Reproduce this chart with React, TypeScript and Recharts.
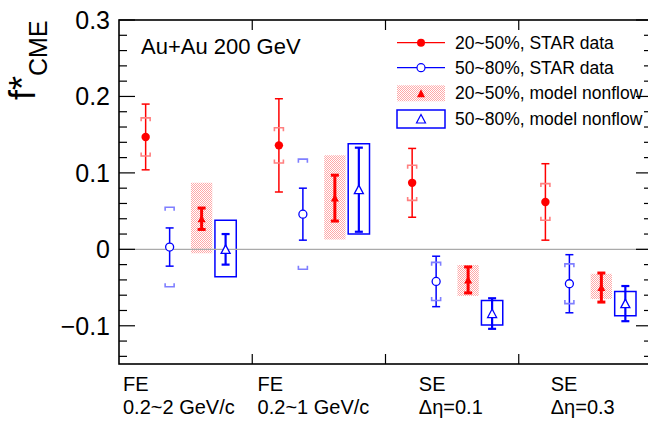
import React from "react";
import {
  ErrorBar,
  ReferenceArea,
  ReferenceLine,
  Scatter,
  ScatterChart,
  XAxis,
  YAxis,
} from "recharts";

// group labels on the x axis (two lines each) and where they start
const groupLabels = [
  ["FE", "0.2~2 GeV/c"],
  ["FE", "0.2~1 GeV/c"],
  ["SE", "Δη=0.1"],
  ["SE", "Δη=0.3"],
];
const groupLabelAt = [0.03, 1.04, 2.25, 3.24];
const xGroupTicks = [1, 2, 3];
const yTicks = [
  -0.14, -0.12, -0.1, -0.08, -0.06, -0.04, -0.02, 0, 0.02, 0.04, 0.06, 0.08, 0.1,
  0.12, 0.14, 0.16, 0.18, 0.2, 0.22, 0.24, 0.26, 0.28, 0.3,
];

// 20~50%, STAR data
const xStar2050 = [0.2, 1.2, 2.2, 3.2];
const star2050 = [0.147, 0.136, 0.087, 0.062];
const star2050Stat = [0.043, 0.061, 0.045, 0.05];
const star2050Sys = [0.025, 0.023, 0.023, 0.024];

// 50~80%, STAR data
const xStar5080 = [0.38, 1.38, 2.38, 3.38];
const star5080 = [0.003, 0.046, -0.042, -0.045];
const star5080Stat = [0.025, 0.034, 0.033, 0.038];
const star5080Sys = [0.052, 0.072, 0.025, 0.026];

// 20~50%, model nonflow
const xModel2050 = [0.62, 1.62, 2.62, 3.62];
const model2050 = [0.04, 0.067, -0.04, -0.05];
const model2050Stat = [0.014, 0.03, 0.017, 0.019];
const model2050Low = [-0.005, 0.013, -0.061, -0.065];
const model2050High = [0.087, 0.123, -0.0205, -0.032];

// 50~80%, model nonflow
const xModel5080 = [0.8, 1.8, 2.8, 3.8];
const model5080 = [0.0, 0.078, -0.084, -0.071];
const model5080Stat = [0.02, 0.055, 0.02, 0.023];
const model5080Low = [-0.036, 0.02, -0.099, -0.087];
const model5080High = [0.038, 0.138, -0.067, -0.055];

const BOX_HALF = 0.08;

const W = 660;
const H = 421;
const PLOT_L = 119;
const PLOT_R = 652;
const PLOT_T = 20;
const PLOT_B = 364;
const FONT = "'Liberation Sans', Arial, Helvetica, sans-serif";

const RED = "#ff0000";
const BLUE = "#0000ff";
const RED_SYS = "#ff8080";
const BLUE_SYS = "#7f7fff";

const points = (xs: number[], ys: number[], errs: number[]) =>
  xs.map((x, i) => ({ x, y: ys[i], err: errs[i] }));
const shifted = (xs: number[], ys: number[], d: number[], sign: number) =>
  xs.map((x, i) => ({ x, y: ys[i] + sign * d[i] }));

function fmtY(v: number): string {
  if (Math.abs(v) < 1e-9) return "0";
  return (v < 0 ? "\u2212" : "") + Math.abs(v).toFixed(1);
}

function YTick({ y, payload }: any) {
  const v = payload.value as number;
  const major = Math.abs(v * 10 - Math.round(v * 10)) < 1e-6;
  const len = major ? 16 : 8;
  return (
    <g>
      <line x1={PLOT_L} x2={PLOT_L + len} y1={y} y2={y} stroke="#000" strokeWidth={1.2} />
      <line x1={PLOT_R - len} x2={PLOT_R} y1={y} y2={y} stroke="#000" strokeWidth={1.2} />
      {major && (
        <text x={110} y={y + 9} textAnchor="end" fontSize={25} fontFamily={FONT} fill="#000">
          {fmtY(v)}
        </text>
      )}
    </g>
  );
}

function XTick({ x }: any) {
  return (
    <g>
      <line x1={x} x2={x} y1={PLOT_B} y2={PLOT_B - 10} stroke="#000" strokeWidth={1.2} />
      <line x1={x} x2={x} y1={PLOT_T} y2={PLOT_T + 10} stroke="#000" strokeWidth={1.2} />
    </g>
  );
}

function GroupLabel({ x, index }: any) {
  const [top, bottom] = groupLabels[index] ?? ["", ""];
  return (
    <g fontFamily={FONT} fontSize={20} fill="#000">
      <text x={x} y={391}>{top}</text>
      <text x={x} y={414}>{bottom}</text>
    </g>
  );
}

const FilledCircle = ({ cx, cy }: any) => <circle cx={cx} cy={cy} r={4.2} fill={RED} />;
const OpenCircle = ({ cx, cy }: any) => (
  <circle cx={cx} cy={cy} r={4} fill="#fff" stroke={BLUE} strokeWidth={1.3} />
);
const FilledTri = ({ cx, cy }: any) => (
  <path d={`M${cx - 4},${cy + 3.5} L${cx + 4},${cy + 3.5} L${cx},${cy - 4} Z`} fill={RED} />
);
const OpenTri = ({ cx, cy }: any) => (
  <path
    d={`M${cx - 4.5},${cy + 4} L${cx + 4.5},${cy + 4} L${cx},${cy - 4.5} Z`}
    fill="#fff"
    stroke={BLUE}
    strokeWidth={1.3}
  />
);

const bracket = (color: string, up: boolean) => ({ cx, cy }: any) => {
  const leg = up ? 3.5 : -3.5;
  return (
    <path
      d={`M${cx - 4.5},${cy + leg} L${cx - 4.5},${cy} L${cx + 4.5},${cy} L${cx + 4.5},${cy + leg}`}
      fill="none"
      stroke={color}
      strokeWidth={1.6}
    />
  );
};

function Legend() {
  const rows = [42.7, 67.7, 93.3, 119];
  const lx1 = 397;
  const lx2 = 445;
  const mx = 421;
  const tx = 455;
  return (
    <g fontFamily={FONT} fontSize={17.5} fill="#000">
      <line x1={lx1} x2={lx2} y1={rows[0]} y2={rows[0]} stroke={RED} strokeWidth={1.3} />
      <circle cx={mx} cy={rows[0]} r={4} fill={RED} />
      <text x={tx} y={rows[0] + 6}>20~50%, STAR data</text>

      <line x1={lx1} x2={lx2} y1={rows[1]} y2={rows[1]} stroke={BLUE} strokeWidth={1.3} />
      <circle cx={mx} cy={rows[1]} r={4} fill="#fff" stroke={BLUE} strokeWidth={1.2} />
      <text x={tx} y={rows[1] + 6}>50~80%, STAR data</text>

      <rect x={lx1} y={rows[2] - 8} width={lx2 - lx1} height={16} fill="url(#nfDots)" />
      <path d={`M${mx - 4},${rows[2] + 4} L${mx + 4},${rows[2] + 4} L${mx},${rows[2] - 4} Z`} fill={RED} />
      <text x={tx} y={rows[2] + 6}>20~50%, model nonflow</text>

      <rect x={lx1} y={rows[3] - 9} width={lx2 - lx1} height={18} fill="none" stroke={BLUE} strokeWidth={1.5} />
      <path
        d={`M${mx - 4.5},${rows[3] + 4} L${mx + 4.5},${rows[3] + 4} L${mx},${rows[3] - 4.5} Z`}
        fill="#fff"
        stroke={BLUE}
        strokeWidth={1.2}
      />
      <text x={tx} y={rows[3] + 6}>50~80%, model nonflow</text>
    </g>
  );
}

export default function App() {
  const boxes2050 = xModel2050.map((x, i) => ({ x, lo: model2050Low[i], hi: model2050High[i] }));
  const boxes5080 = xModel5080.map((x, i) => ({ x, lo: model5080Low[i], hi: model5080High[i] }));

  return (
    <div
      style={{
        position: "fixed",
        left: 0,
        top: 0,
        width: 648,
        height: 421,
        overflow: "hidden",
        background: "#fff",
      }}
    >
      <svg width={0} height={0} style={{ position: "absolute" }}>
        <defs>
          <pattern id="nfDots" width={2} height={2} patternUnits="userSpaceOnUse">
            <rect x={0} y={0} width={1} height={1} fill="#ffa8a8" />
            <rect x={1} y={1} width={1} height={1} fill="#ffa8a8" />
          </pattern>
        </defs>
      </svg>
      <div style={{ position: "absolute", left: 0, top: 0 }}>
        <ScatterChart width={W} height={H} margin={{ top: 0, right: W - PLOT_R, bottom: 0, left: 0 }}>
          <XAxis
            xAxisId="marks"
            orientation="top"
            type="number"
            dataKey="x"
            domain={[0, 4]}
            allowDataOverflow
            ticks={xGroupTicks}
            interval={0}
            height={PLOT_T}
            axisLine={false}
            tickLine={false}
            tick={(p: any) => <XTick {...p} />}
          />
          <XAxis
            type="number"
            dataKey="x"
            domain={[0, 4]}
            allowDataOverflow
            ticks={groupLabelAt}
            interval={0}
            height={H - PLOT_B}
            axisLine={false}
            tickLine={false}
            tick={(p: any) => <GroupLabel {...p} />}
          />
          <YAxis
            type="number"
            dataKey="y"
            domain={[-0.15, 0.3]}
            allowDataOverflow
            ticks={yTicks}
            interval={0}
            width={PLOT_L}
            axisLine={false}
            tickLine={false}
            tick={(p: any) => <YTick {...p} />}
          />
          <ReferenceLine y={0} stroke="#aaaaaa" strokeWidth={1.2} />
          {boxes2050.map((b, i) => (
            <ReferenceArea
              key={`r${i}`}
              x1={b.x - BOX_HALF}
              x2={b.x + BOX_HALF}
              y1={b.lo}
              y2={b.hi}
              fill="url(#nfDots)"
              fillOpacity={1}
              stroke="none"
            />
          ))}
          {boxes5080.map((b, i) => (
            <ReferenceArea
              key={`b${i}`}
              x1={b.x - BOX_HALF}
              x2={b.x + BOX_HALF}
              y1={b.lo}
              y2={b.hi}
              fill="none"
              fillOpacity={0}
              stroke={BLUE}
              strokeWidth={1.5}
            />
          ))}

          {/* systematic brackets of STAR data */}
          <Scatter data={shifted(xStar2050, star2050, star2050Sys, 1)} shape={bracket(RED_SYS, true)} isAnimationActive={false} />
          <Scatter data={shifted(xStar2050, star2050, star2050Sys, -1)} shape={bracket(RED_SYS, false)} isAnimationActive={false} />
          <Scatter data={shifted(xStar5080, star5080, star5080Sys, 1)} shape={bracket(BLUE_SYS, true)} isAnimationActive={false} />
          <Scatter data={shifted(xStar5080, star5080, star5080Sys, -1)} shape={bracket(BLUE_SYS, false)} isAnimationActive={false} />

          <Scatter data={points(xStar2050, star2050, star2050Stat)} shape={<FilledCircle />} isAnimationActive={false}>
            <ErrorBar dataKey="err" direction="y" width={4} stroke={RED} strokeWidth={1.5} isAnimationActive={false} />
          </Scatter>
          <Scatter data={points(xStar5080, star5080, star5080Stat)} shape={<OpenCircle />} isAnimationActive={false}>
            <ErrorBar dataKey="err" direction="y" width={4} stroke={BLUE} strokeWidth={1.5} isAnimationActive={false} />
          </Scatter>
          <Scatter data={points(xModel2050, model2050, model2050Stat)} shape={<FilledTri />} isAnimationActive={false}>
            <ErrorBar dataKey="err" direction="y" width={4} stroke={RED} strokeWidth={3} isAnimationActive={false} />
          </Scatter>
          <Scatter data={points(xModel5080, model5080, model5080Stat)} shape={<OpenTri />} isAnimationActive={false}>
            <ErrorBar dataKey="err" direction="y" width={4} stroke={BLUE} strokeWidth={2.2} isAnimationActive={false} />
          </Scatter>
        </ScatterChart>
      </div>
      <svg
        width={W}
        height={H}
        style={{ position: "absolute", left: 0, top: 0, pointerEvents: "none" }}
      >
        <rect
          x={PLOT_L}
          y={PLOT_T}
          width={PLOT_R - PLOT_L}
          height={PLOT_B - PLOT_T}
          fill="none"
          stroke="#000"
          strokeWidth={1.6}
        />
        <text x={141} y={54} fontFamily={FONT} fontSize={22} fill="#000">
          Au+Au 200 GeV
        </text>
        <text transform="translate(35,100) rotate(-90)" fontFamily={FONT} fill="#000">
          <tspan fontSize={36}>f*</tspan>
          <tspan fontSize={25} dy={12}>CME</tspan>
        </text>
        <Legend />
      </svg>
    </div>
  );
}
